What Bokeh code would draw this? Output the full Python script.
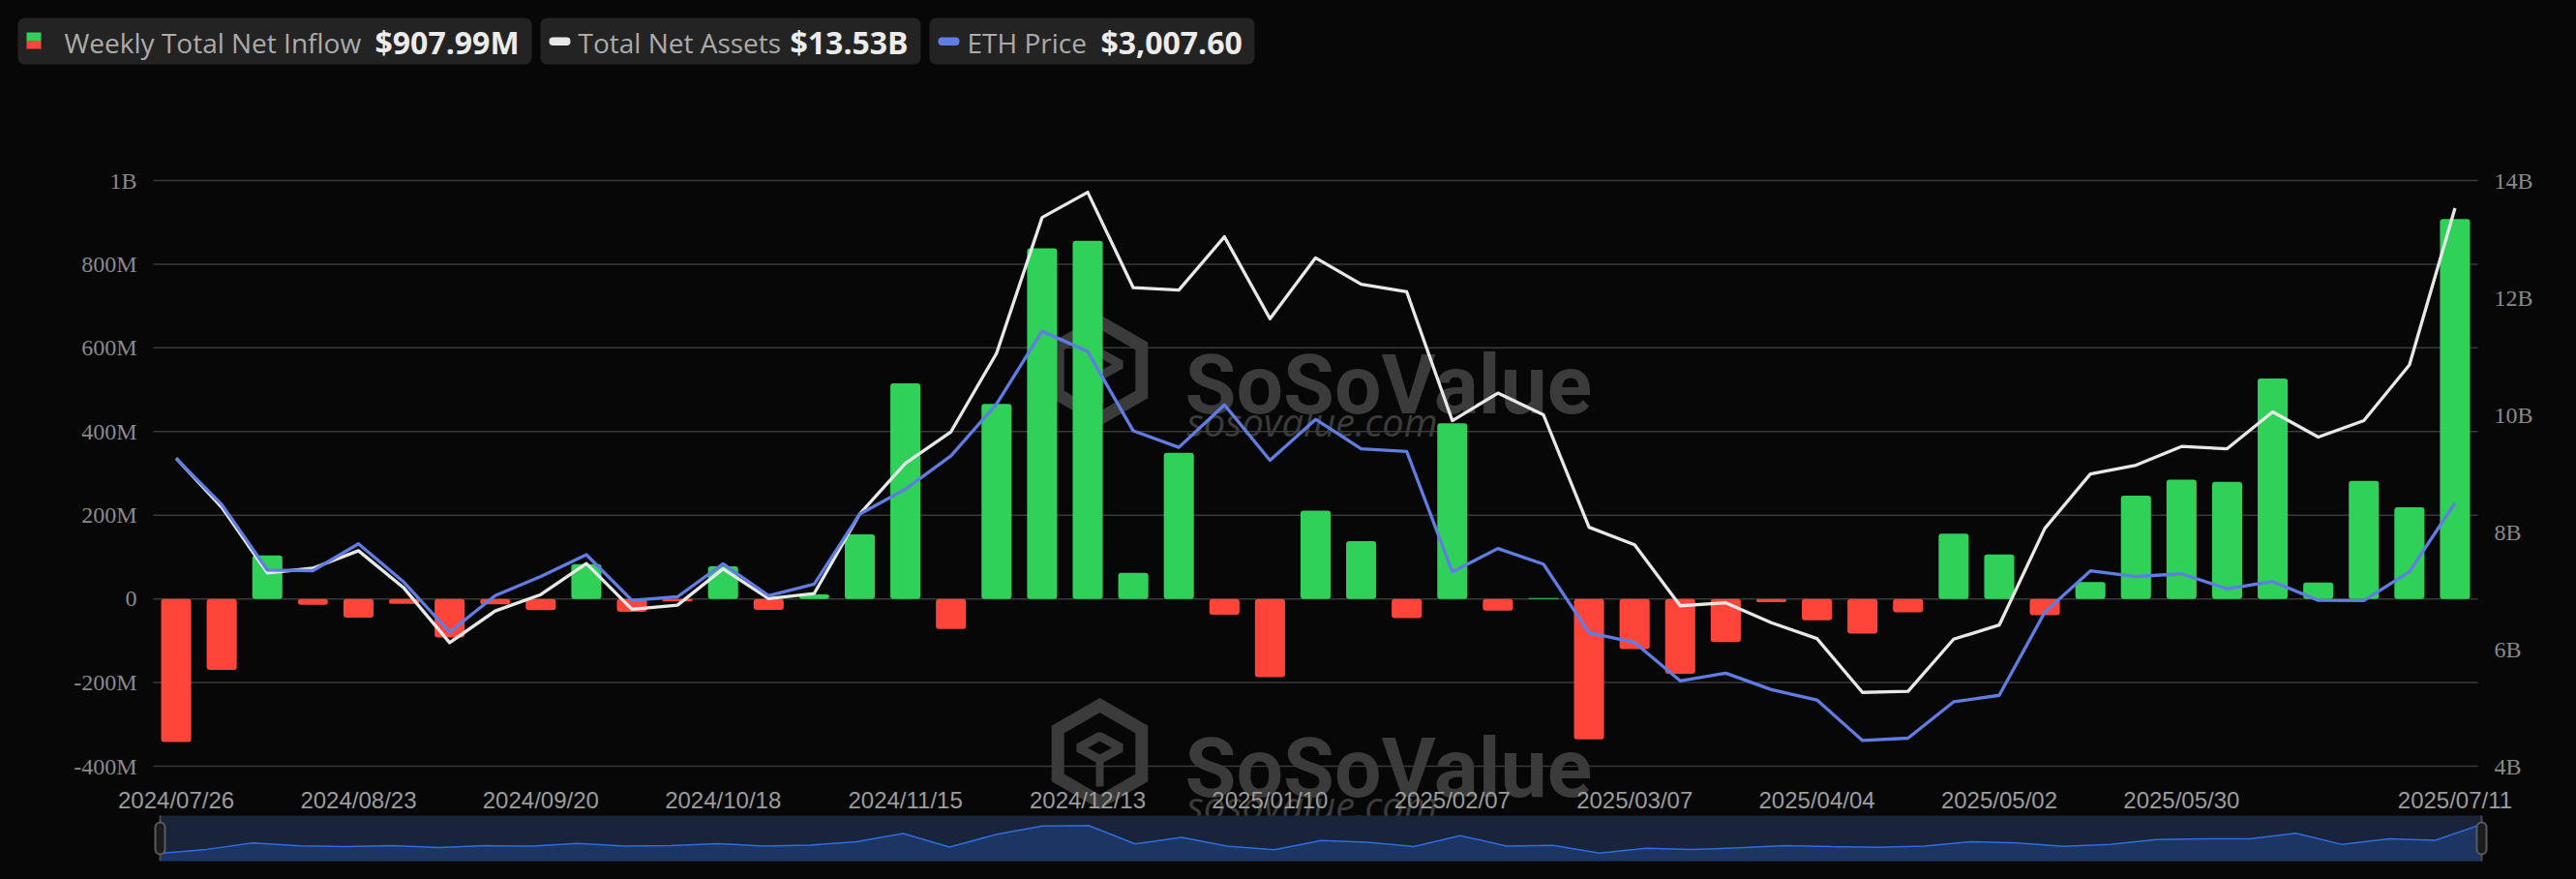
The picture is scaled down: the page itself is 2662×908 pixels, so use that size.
import numpy as np
from bokeh.plotting import figure
from bokeh.models import Range1d
from bokeh.core.properties import value
from bokeh.embed import file_html
from bokeh.resources import INLINE

# ---------------- data ----------------
dates = [
    "2024/07/26", "2024/08/02", "2024/08/09", "2024/08/16", "2024/08/23", "2024/08/30",
    "2024/09/06", "2024/09/13", "2024/09/20", "2024/09/27", "2024/10/04", "2024/10/11",
    "2024/10/18", "2024/10/25", "2024/11/01", "2024/11/08", "2024/11/15", "2024/11/22",
    "2024/11/29", "2024/12/06", "2024/12/13", "2024/12/20", "2024/12/27", "2025/01/03",
    "2025/01/10", "2025/01/17", "2025/01/24", "2025/01/31", "2025/02/07", "2025/02/14",
    "2025/02/21", "2025/02/28", "2025/03/07", "2025/03/14", "2025/03/21", "2025/03/28",
    "2025/04/04", "2025/04/11", "2025/04/18", "2025/04/25", "2025/05/02", "2025/05/09",
    "2025/05/16", "2025/05/23", "2025/05/30", "2025/06/06", "2025/06/13", "2025/06/20",
    "2025/06/27", "2025/07/04", "2025/07/11",
]
# weekly total net inflow, $M
inflow = [
    -342, -170, 104, -14, -45, -12, -92, -13, -27, 83, -31, -6, 78, -26, 11, 154, 515,
    -72, 466, 838, 856, 62, 349, -38, -187, 211, 138, -46, 420, -28, 2, -336, -120,
    -179, -103, -8, -51, -83, -32, 156, 106, -39, 40, 247, 285, 280, 527, 39, 282,
    219, 907.99,
]
# total net assets, $B
assets = [
    9.26, 8.42, 7.30, 7.38, 7.68, 7.04, 6.11, 6.65, 6.93, 7.46, 6.68, 6.75, 7.37, 6.86,
    6.95, 8.31, 9.17, 9.71, 11.05, 13.37, 13.80, 12.17, 12.13, 13.04, 11.64, 12.68,
    12.23, 12.10, 9.90, 10.37, 10.00, 8.08, 7.78, 6.74, 6.79, 6.45, 6.18, 5.26, 5.28,
    6.17, 6.41, 8.06, 8.99, 9.14, 9.46, 9.42, 10.05, 9.62, 9.90, 10.85, 13.53,
]
# ETH price, $
eth = [
    3274, 2998, 2605, 2601, 2762, 2531, 2232, 2451, 2566, 2697, 2423, 2444, 2642, 2451,
    2520, 2941, 3090, 3290, 3601, 4038, 3916, 3440, 3341, 3596, 3263, 3509, 3332, 3316,
    2594, 2734, 2640, 2228, 2170, 1940, 1986, 1887, 1825, 1582, 1596, 1814, 1853, 2352,
    2600, 2566, 2582, 2492, 2536, 2423, 2421, 2594, 3007.60,
]
left_ticks = [-400, -200, 0, 200, 400, 600, 800, 1000]
left_labels = ["-400M", "-200M", "0", "200M", "400M", "600M", "800M", "1B"]
right_ticks = [4, 6, 8, 10, 12, 14]
right_labels = ["4B", "6B", "8B", "10B", "12B", "14B"]
xtick_dates = ["2024/07/26", "2024/08/23", "2024/09/20", "2024/10/18", "2024/11/15",
               "2024/12/13", "2025/01/10", "2025/02/07", "2025/03/07", "2025/04/04",
               "2025/05/02", "2025/05/30", "2025/07/11"]
legend_names = ["Weekly Total Net Inflow", "Total Net Assets", "ETH Price"]

# ---------------- styling / layout constants (page pixels) ----------------
BG = "#070707"
GREEN = "#30d158"
RED = "#ff453a"
WHITE_LINE = "#e8e8e8"
BLUE_LINE = "#5f7de3"
WM = "#3b3b3b"
GRID = "#3a3a3a"

W, H = 2660, 906            # canvas (Bokeh's page template has no body margin)
CL, CT = 0, 0               # canvas left / top on the page
CR, CB = CL + W, CT + H
PL, PR, PT, PB = 158, 2560, 186, 791       # plot area (bars/lines)
NL, NR, NT, NB = 165, 2564, 842, 889       # navigator area

N = len(dates)
idx = list(range(N))
bar_colors = [GREEN if v >= 0 else RED for v in inflow]


def span_range(v_lo, v_hi, p_lo, p_hi, c_lo, c_hi):
    """Range whose values v_lo..v_hi sit at page px p_lo..p_hi, extended to the canvas."""
    k = (v_hi - v_lo) / (p_hi - p_lo)
    return Range1d(v_lo + (c_lo - p_lo) * k, v_lo + (c_hi - p_lo) * k)


def span_range_y(v_lo, v_hi, p_lo, p_hi):
    # page y grows downward: v_lo at p_lo (lower on page), v_hi at p_hi
    k = (v_hi - v_lo) / (p_lo - p_hi)
    return Range1d(v_lo - (CB - p_lo) * k, v_hi + (p_hi - CT) * k)


x_main = span_range(-0.5, N - 0.5, PL, PR, CL, CR)
y_main = span_range_y(-400, 1000, PB, PT)

p = figure(width=W, height=H, x_range=x_main, y_range=y_main, title=None,
           output_backend="svg", toolbar_location=None, x_axis_type=None, y_axis_type=None,
           min_border=0, background_fill_color=BG, border_fill_color=BG,
           outline_line_color=None)
p.extra_y_ranges = {
    "assets": span_range_y(4, 14, PB, PT),
    "eth": span_range_y(1427.5, 4942, PB, PT),
    "px": Range1d(CB, CT),
    "navy": span_range_y(-675, 1283, NB, NT),
}
p.extra_x_ranges = {
    "px": Range1d(CL, CR),
    "navx": span_range(0, N - 1, NL, NR, CL, CR),
}
PX = dict(x_range_name="px", y_range_name="px")

# ---- legend ----
p.quad(left=[18, 558, 960], right=[549, 951, 1296], top=[18, 18, 18], bottom=[66, 66, 66],
       fill_color="#232323", line_color=None, border_radius=7, **PX)
p.quad(left=[27], right=[42], top=[33], bottom=[41.5], fill_color=GREEN, line_color=None, **PX)
p.quad(left=[27], right=[42], top=[41.5], bottom=[50], fill_color=RED, line_color=None, **PX)
p.quad(left=[567, 969], right=[589, 991], top=[38, 38], bottom=[46.5, 46.5],
       fill_color=[WHITE_LINE, BLUE_LINE], line_color=None, border_radius=4, **PX)
p.text(x=[66, 597, 999], y=[43, 43, 43], text=legend_names,
       text_font=value("Open Sans"), text_font_size="28px", text_color="#ababab",
       text_baseline="middle", text_align="left", **PX)
vals = [f"${inflow[-1]:,.2f}M", f"${assets[-1]:.2f}B", f"${eth[-1]:,.2f}"]
p.text(x=[387, 816, 1137], y=[43, 43, 43], text=vals,
       text_font=value("Open Sans"), text_font_size="32px", text_font_style="bold",
       text_color="#ececec", text_baseline="middle", text_align="left", **PX)

# ---- watermarks ----
for dy in (0, 396):
    p.text(x=[1224], y=[397 + dy], text=["SoSoValue"], text_font=value("Roboto"),
           text_font_style="bold", text_font_size="86px", text_color=WM,
           text_baseline="alphabetic", **PX)
    p.text(x=[1226], y=[435 + dy], text=["sosovalue.com"], text_font=value("Open Sans"),
           text_font_style="italic", text_font_size="40px", text_color=WM,
           text_baseline="alphabetic", **PX)
    cx, cy, r = 1136, 382 + dy, 50
    ang = np.deg2rad([90, 30, -30, -90, -150, 150])
    p.patch(x=list(cx + r * np.cos(ang)), y=list(cy - r * np.sin(ang)), fill_alpha=0,
            line_color=WM, line_width=13, line_join="miter", **PX)
    p.patch(x=[cx - 22, cx, cx + 22, cx], y=[cy - 6, cy - 18, cy - 6, cy + 6], fill_alpha=0,
            line_color=WM, line_width=9, **PX)
    p.quad(left=[cx - 4], right=[cx + 4], top=[cy + 6], bottom=[cy + 34], fill_color=WM,
           line_color=None, **PX)

# ---- grid & tick labels ----
p.segment(x0=[-0.5] * len(left_ticks), x1=[N - 0.5] * len(left_ticks), y0=left_ticks,
          y1=left_ticks, line_color=GRID, line_width=1.5)
p.text(x=[141] * len(left_ticks), y=left_ticks, text=left_labels, x_range_name="px",
       text_font=value("Liberation Serif"), text_font_size="24px", text_color="#8a8a8a",
       text_align="right", text_baseline="middle")
p.text(x=[2577] * len(right_ticks), y=right_ticks, text=right_labels, x_range_name="px",
       y_range_name="assets", text_font=value("Liberation Serif"), text_font_size="24px",
       text_color="#8a8a8a", text_align="left", text_baseline="middle")
xt = [dates.index(d) for d in xtick_dates]
p.text(x=xt, y=[826] * len(xt), text=xtick_dates, y_range_name="px",
       text_font=value("Liberation Sans"), text_font_size="24px", text_color="#9c9c9c",
       text_align="center", text_baseline="alphabetic")

# ---- data marks ----
p.vbar(x=idx, top=inflow, bottom=0, width=0.66, fill_color=bar_colors, line_color=None,
       border_radius=3)
p.line(idx, assets, y_range_name="assets", line_color=WHITE_LINE, line_width=3.3,
       line_join="round")
p.line(idx, eth, y_range_name="eth", line_color=BLUE_LINE, line_width=3.3, line_join="round")

# ---- navigator ----
NAV = dict(x_range_name="navx", y_range_name="navy")
p.quad(left=[0], right=[N - 1], bottom=[-675], top=[1283], fill_color="#19233a",
       line_color=None, **NAV)
p.varea(x=idx, y1=-675, y2=inflow, fill_color="#1d3562", **NAV)
p.line(idx, inflow, line_color="#2b6de2", line_width=1.5, **NAV)
p.segment(x0=[0, N - 1], x1=[0, N - 1], y0=[-675, -675], y1=[1283, 1283],
          line_color="#4a4a4a", line_width=2, **NAV)
p.rect(x=[0, N - 1], y=[304, 304], width=10, height=33, width_units="screen",
       height_units="screen", fill_color="#1c1c1c", line_color="#5a5a5a", line_width=2,
       border_radius=5, **NAV)

html = file_html(p, INLINE)
html = html.replace("<head>", "<head><style>html,body{background:#070707;}</style>", 1)
open("out.html", "w").write(html)
